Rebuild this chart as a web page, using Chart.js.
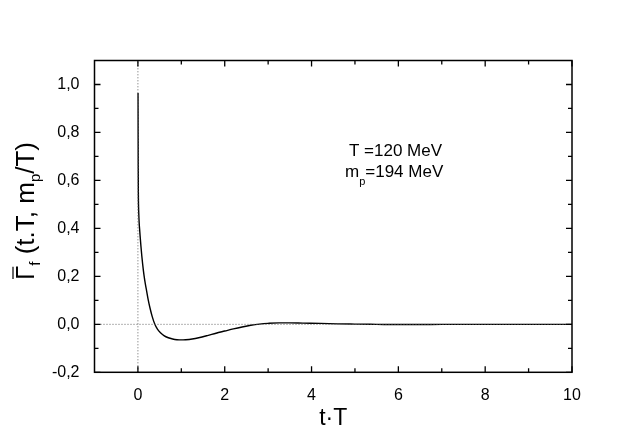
<!DOCTYPE html>
<html>
<head>
<meta charset="utf-8">
<script src="https://cdn.jsdelivr.net/npm/chart.js@4.4.1/dist/chart.umd.min.js"></script>
<style>
  html, body { margin: 0; padding: 0; background: #fff; }
</style>
</head>
<body>
<canvas id="chart" width="630" height="436"></canvas>
<script>
// values
const tValues = [0.003, 0.005, 0.007, 0.01, 0.015, 0.02, 0.03, 0.04, 0.05, 0.07, 0.09, 0.11, 0.14, 0.17, 0.2, 0.24, 0.28, 0.33, 0.39, 0.45, 0.52, 0.6, 0.7, 0.8, 0.9, 1.0, 1.1, 1.25, 1.4, 1.6, 1.8, 2.0, 2.2, 2.4, 2.6, 2.8, 3.0, 3.25, 3.5, 3.8, 4.2, 4.6, 5.0, 5.5, 6.0, 6.5, 7, 8, 9, 10];
const gammaValues = [0.965, 0.80, 0.66, 0.55, 0.49, 0.46, 0.42, 0.395, 0.37, 0.325, 0.285, 0.25, 0.205, 0.17, 0.14, 0.10, 0.067, 0.032, 0.0, -0.02, -0.035, -0.047, -0.056, -0.061, -0.064, -0.065, -0.064, -0.061, -0.056, -0.047, -0.037, -0.028, -0.019, -0.011, -0.004, 0.001, 0.004, 0.006, 0.006, 0.005, 0.004, 0.002, 0.001, 0.0, -0.001, -0.001, 0.0, 0.0, 0.0, 0.0];

const xTicks = [0, 2, 4, 6, 8, 10];
const xMinorTicks = [1, 3, 5, 7, 9];
const yTicks = [-0.2, 0, 0.2, 0.4, 0.6, 0.8, 1.0];
const yMinorTicks = [-0.1, 0.1, 0.3, 0.5, 0.7, 0.9];
const xRange = [-1, 10];
const yRange = [-0.2, 1.1];

const FONT = '"Liberation Sans", Arial, Helvetica, sans-serif';
Chart.defaults.font.family = FONT;
Chart.defaults.color = "#000";

const curve = tValues.map((t, i) => ({ x: t, y: gammaValues[i] }));

// frame and inward ticks on all four sides
const framePlugin = {
  id: "frame",
  afterDatasetsDraw(chart) {
    const { ctx, chartArea: a, scales } = chart;
    const xs = scales.x, ys = scales.y;
    ctx.save();
    ctx.strokeStyle = "#000";
    ctx.lineWidth = 1.5;
    ctx.strokeRect(a.left, a.top, a.right - a.left, a.bottom - a.top);
    ctx.lineWidth = 1.3;
    const tick = (vals, len) => {
      vals.forEach((v) => {
        const px = xs.getPixelForValue(v);
        ctx.beginPath();
        ctx.moveTo(px, a.bottom); ctx.lineTo(px, a.bottom - len);
        ctx.moveTo(px, a.top); ctx.lineTo(px, a.top + len);
        ctx.stroke();
      });
    };
    const ytick = (vals, len) => {
      vals.forEach((v) => {
        const py = ys.getPixelForValue(v);
        ctx.beginPath();
        ctx.moveTo(a.left, py); ctx.lineTo(a.left + len, py);
        ctx.moveTo(a.right, py); ctx.lineTo(a.right - len, py);
        ctx.stroke();
      });
    };
    tick(xTicks, 6);
    tick(xMinorTicks, 4);
    ytick(yTicks, 6);
    ytick(yMinorTicks, 4);
    ctx.restore();
  },
  afterDraw(chart) {
    const ctx = chart.ctx;
    ctx.save();
    ctx.fillStyle = "#000";
    ctx.textBaseline = "alphabetic";
    ctx.textAlign = "left";

    // annotation
    ctx.font = "17px " + FONT;
    ctx.fillText("T =120 MeV", 349, 156);
    let x = 345;
    ctx.fillText("m", x, 177);
    x += ctx.measureText("m").width;
    ctx.font = "11px " + FONT;
    ctx.fillText("p", x, 185);
    x += ctx.measureText("p").width;
    ctx.font = "17px " + FONT;
    ctx.fillText("=194 MeV", x, 177);

    // y axis title with subscripts
    const big = "26px " + FONT, small = "15px " + FONT;
    const parts = [
      { s: "\u0393", f: big, dy: 0, bar: true },
      { s: "f", f: small, dy: 6 },
      { s: " (t.T, m", f: big, dy: 0 },
      { s: "p", f: small, dy: 6 },
      { s: "/T)", f: big, dy: 0 },
    ];
    let total = 0;
    parts.forEach((p) => { ctx.font = p.f; p.w = ctx.measureText(p.s).width; total += p.w; });
    ctx.translate(34, 211);
    ctx.rotate(-Math.PI / 2);
    let px = -total / 2;
    ctx.strokeStyle = "#000";
    ctx.lineWidth = 1.2;
    parts.forEach((p) => {
      ctx.font = p.f;
      ctx.fillText(p.s, px, p.dy);
      if (p.bar) {
        ctx.beginPath();
        ctx.moveTo(px + 1, -21);
        ctx.lineTo(px + p.w - 1, -21);
        ctx.stroke();
      }
      px += p.w;
    });
    ctx.restore();
  },
};

new Chart(document.getElementById("chart"), {
  type: "line",
  data: {
    datasets: [
      {
        data: [{ x: xRange[0], y: 0 }, { x: xRange[1], y: 0 }],
        borderColor: "#666",
        borderWidth: 1,
        borderDash: [1, 2],
        pointRadius: 0,
      },
      {
        data: [{ x: 0, y: yRange[0] }, { x: 0, y: yRange[1] }],
        borderColor: "#666",
        borderWidth: 1,
        borderDash: [1, 2],
        pointRadius: 0,
      },
      {
        data: curve,
        borderColor: "#000",
        borderWidth: 1.4,
        pointRadius: 0,
        cubicInterpolationMode: "monotone",
      },
    ],
  },
  options: {
    responsive: false,
    animation: false,
    layout: { padding: { left: 0, top: 60.5, right: 58, bottom: 0 } },
    plugins: { legend: { display: false }, tooltip: { enabled: false } },
    scales: {
      x: {
        type: "linear",
        min: xRange[0],
        max: xRange[1],
        grid: { display: false },
        border: { display: false },
        afterBuildTicks: (scale) => { scale.ticks = xTicks.map((v) => ({ value: v })); },
        afterFit: (scale) => { scale.height = 63.7; },
        ticks: { font: { size: 16 }, padding: 6, maxRotation: 0 },
        title: { display: true, text: "t\u00b7T", font: { size: 23 }, padding: { top: 0, bottom: 4 } },
      },
      y: {
        type: "linear",
        min: yRange[0],
        max: yRange[1],
        grid: { display: false },
        border: { display: false },
        afterBuildTicks: (scale) => { scale.ticks = yTicks.map((v) => ({ value: v })); },
        afterFit: (scale) => { scale.width = 94.5; },
        ticks: {
          font: { size: 16 },
          padding: 7,
          callback: (v) => v.toFixed(1).replace(".", ","),
        },
      },
    },
  },
  plugins: [framePlugin],
});
</script>
</body>
</html>
